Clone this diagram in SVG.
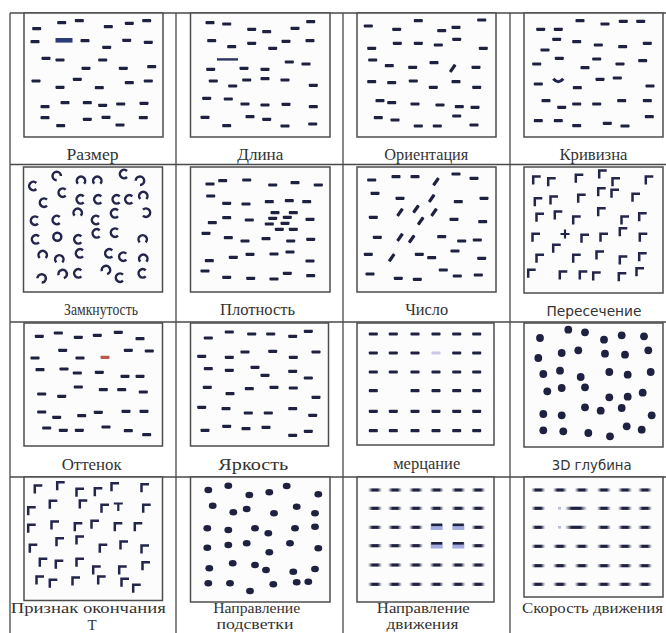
<svg xmlns="http://www.w3.org/2000/svg" width="666" height="633" viewBox="0 0 666 633">
<style>
.grid{stroke:#4a4a4a;stroke-width:1.3;fill:none}
.box{stroke:#4d4d4d;stroke-width:1.5;fill:#fcfcfd}
.dk{fill:#1f2140}
.ln{stroke:#23264a;fill:none}
.lbl{font-family:"Liberation Serif","Times New Roman",serif;font-size:17px;fill:#333;text-anchor:middle}
.lb4{font-family:"Liberation Serif","Times New Roman",serif;font-size:15px;fill:#333;text-anchor:middle}
.sans{font-family:"DejaVu Sans",Verdana,sans-serif;font-size:13.5px;fill:#333;text-anchor:middle}
</style>
<defs>
<rect id="d" x="-4.5" y="-1.6" width="9" height="3.2" rx="0.8"/>
<path id="L" d="M-3.5,4.5V-3.5H4" fill="none" stroke-width="2.5"/>
<path id="C" d="M3,-3A4.2,4.2 0 1 0 3,3" fill="none" stroke-width="2.5"/>
<linearGradient id="mb" x1="0" x2="1" y1="0" y2="0"><stop offset="0" stop-color="#1f2140" stop-opacity="0"/><stop offset="0.15" stop-color="#1f2140" stop-opacity="0.45"/><stop offset="0.3" stop-color="#1f2140"/><stop offset="0.7" stop-color="#1f2140"/><stop offset="0.85" stop-color="#1f2140" stop-opacity="0.45"/><stop offset="1" stop-color="#1f2140" stop-opacity="0"/></linearGradient>
<rect id="m" x="-7" y="-1.6" width="14" height="3.2" fill="url(#mb)"/>
<rect id="ml" x="-11" y="-1.6" width="22" height="3.2" fill="url(#mb)"/>
</defs>
<rect width="666" height="633" fill="#fff"/>
<g id="table" class="grid">
<path d="M10,13H666M10,164.5H666M10,322H666M10,477H666M10,13V633M176,13V633M343,13V633M510,13V633"/>
</g>
<g id="p1">
<rect class="box" x="24" y="13" width="139" height="124"/>
<g class="dk">
<use href="#d" x="36.7" y="28.7"/><use href="#d" x="61.7" y="22.7"/><use href="#d" x="79.3" y="20.7"/><use href="#d" x="108.3" y="26.7"/><use href="#d" x="129.3" y="23.3"/><use href="#d" x="146.7" y="20.7"/>
<use href="#d" x="35" y="41.7"/><use href="#d" x="85" y="40.7"/><use href="#d" x="106.7" y="47.3"/><use href="#d" x="126.7" y="40.3"/><use href="#d" x="148.3" y="42.3"/>
<use href="#d" x="46" y="58.3"/><use href="#d" x="60" y="60"/><use href="#d" x="102.7" y="60"/><use href="#d" x="86" y="68.3"/><use href="#d" x="123.3" y="68.3"/><use href="#d" x="151.7" y="66.7"/>
<use href="#d" x="36" y="81"/><use href="#d" x="77.3" y="79.3"/><use href="#d" x="60" y="87.3"/><use href="#d" x="99.3" y="87.7"/><use href="#d" x="129.3" y="82.7"/><use href="#d" x="148.3" y="81"/>
<use href="#d" x="45" y="106.7"/><use href="#d" x="65" y="102.7"/><use href="#d" x="87.3" y="102.7"/><use href="#d" x="102.7" y="105.3"/><use href="#d" x="120.7" y="104"/><use href="#d" x="144" y="103.3"/>
<use href="#d" x="45" y="117.7"/><use href="#d" x="60.7" y="125.7"/><use href="#d" x="87.3" y="119.3"/><use href="#d" x="106" y="117.3"/><use href="#d" x="120" y="125"/><use href="#d" x="143.3" y="117.7"/>
</g>
<rect x="55.5" y="38" width="17" height="4.6" fill="#2b3c78"/>
<text class="lbl" x="92.5" y="160" textLength="52" lengthAdjust="spacingAndGlyphs">Размер</text>
</g>
<g id="p2">
<rect class="box" x="190.5" y="13" width="139.5" height="124"/>
<g class="dk">
<use href="#d" x="210" y="22.7"/><use href="#d" x="226.7" y="24"/><use href="#d" x="251.7" y="29.3"/><use href="#d" x="266.7" y="31.7"/><use href="#d" x="295" y="28.3"/><use href="#d" x="310.7" y="21.7"/>
<use href="#d" x="211.7" y="40.7"/><use href="#d" x="231.7" y="46.7"/><use href="#d" x="251.7" y="43.3"/><use href="#d" x="272.7" y="48.3"/><use href="#d" x="286" y="41.3"/><use href="#d" x="310" y="40.7"/>
<use href="#d" x="210.7" y="69.3"/><use href="#d" x="244" y="68.3"/><use href="#d" x="265" y="69.3"/><use href="#d" x="289.3" y="62"/><use href="#d" x="306" y="64"/>
<use href="#d" x="213.3" y="81"/><use href="#d" x="232.7" y="86"/><use href="#d" x="246.7" y="80"/><use href="#d" x="265" y="78.7"/><use href="#d" x="285" y="80"/><use href="#d" x="313.3" y="85.3"/>
<use href="#d" x="206.7" y="98.3"/><use href="#d" x="228.3" y="99"/><use href="#d" x="245" y="104"/><use href="#d" x="265" y="105"/><use href="#d" x="286" y="104.3"/><use href="#d" x="313.3" y="106.7"/>
<use href="#d" x="205" y="117.3"/><use href="#d" x="226.7" y="125.7"/><use href="#d" x="250" y="116.7"/><use href="#d" x="266.7" y="119.3"/><use href="#d" x="285" y="126"/><use href="#d" x="312.7" y="124"/>
</g>
<rect x="217" y="58.2" width="21" height="2.4" fill="#2d3568"/>
<text class="lbl" x="260.3" y="160" textLength="46" lengthAdjust="spacingAndGlyphs">Длина</text>
</g>
<g id="p3">
<rect class="box" x="357" y="13" width="139" height="124"/>
<g class="dk">
<use href="#d" x="368.3" y="26"/><use href="#d" x="396.7" y="29.3"/><use href="#d" x="418.3" y="20.7"/><use href="#d" x="441.7" y="30.7"/><use href="#d" x="456" y="27.3"/><use href="#d" x="481.7" y="20"/>
<use href="#d" x="371.7" y="48.3"/><use href="#d" x="397.3" y="43.3"/><use href="#d" x="418.3" y="43.3"/><use href="#d" x="438.3" y="45"/><use href="#d" x="456.7" y="39.3"/><use href="#d" x="483.3" y="48.3"/>
<use href="#d" x="372.7" y="60"/><use href="#d" x="389.3" y="65.7"/><use href="#d" x="412.7" y="67.3"/><use href="#d" x="434" y="62.7"/><use href="#d" x="476" y="67.3"/>
<use href="#d" transform="translate(452.7,68.3) rotate(-55)"/>
<use href="#d" x="371.7" y="81.7"/><use href="#d" x="391.7" y="82.7"/><use href="#d" x="413.3" y="81"/><use href="#d" x="433.3" y="87.3"/><use href="#d" x="456" y="81.7"/><use href="#d" x="476.7" y="87.3"/>
<use href="#d" x="380" y="100.7"/><use href="#d" x="391.7" y="102.7"/><use href="#d" x="415" y="104"/><use href="#d" x="440" y="105"/><use href="#d" x="459.3" y="106.7"/><use href="#d" x="475" y="107.3"/>
<use href="#d" x="378.3" y="117.7"/><use href="#d" x="395" y="120"/><use href="#d" x="418.3" y="126"/><use href="#d" x="437.3" y="126"/><use href="#d" x="456.7" y="116"/><use href="#d" x="474" y="125"/>
</g>
<text class="lbl" x="426.3" y="160" textLength="84" lengthAdjust="spacingAndGlyphs">Ориентация</text>
</g>
<g id="p4">
<rect class="box" x="524" y="13" width="139" height="124"/>
<g class="dk">
<use href="#d" x="540.7" y="29.3"/><use href="#d" x="558.3" y="29.3"/><use href="#d" x="580" y="20.7"/><use href="#d" x="605" y="24"/><use href="#d" x="623.3" y="21.3"/><use href="#d" x="640.7" y="21.3"/>
<use href="#d" x="545" y="50"/><use href="#d" x="556.7" y="39.3"/><use href="#d" x="576.7" y="41.7"/><use href="#d" x="598.3" y="45"/><use href="#d" x="622.7" y="46.7"/><use href="#d" x="647.3" y="43.3"/>
<use href="#d" x="536.7" y="64"/><use href="#d" x="559.3" y="58.3"/><use href="#d" x="585" y="67.7"/><use href="#d" x="596.7" y="59"/><use href="#d" x="620" y="64"/><use href="#d" x="642.7" y="60.7"/>
<use href="#d" x="538.3" y="84"/><use href="#d" x="577.3" y="87.7"/><use href="#d" x="600" y="79.3"/><use href="#d" x="617.3" y="78"/><use href="#d" x="650" y="86"/>
<use href="#d" x="546" y="100.7"/><use href="#d" x="561.7" y="107.3"/><use href="#d" x="576.7" y="104"/><use href="#d" x="596.7" y="104"/><use href="#d" x="621.7" y="100.7"/><use href="#d" x="647.3" y="100.7"/>
<use href="#d" x="538.3" y="120.7"/><use href="#d" x="558.3" y="120.7"/><use href="#d" x="576.7" y="125.7"/><use href="#d" x="607.3" y="123.3"/><use href="#d" x="625" y="126"/><use href="#d" x="649.3" y="116.7"/>
</g>
<path class="ln" d="M553.3,78.8Q558.3,84.8 563.3,78.8" stroke-width="3"/>
<text class="lbl" x="593.5" y="160" textLength="68" lengthAdjust="spacingAndGlyphs">Кривизна</text>
</g>
<g id="p5">
<rect class="box" x="23.5" y="167" width="139" height="125"/>
<g class="ln">
<use href="#C" transform="translate(33.3,186)"/><use href="#C" transform="translate(56.7,176) rotate(45)"/><use href="#C" transform="translate(81,180.7) rotate(90)"/><use href="#C" transform="translate(97.3,180.7) rotate(90)"/><use href="#C" transform="translate(124,174)"/><use href="#C" transform="translate(140,180.7) rotate(135)"/>
<use href="#C" transform="translate(44,202.7)"/><use href="#C" transform="translate(62.7,192.7)"/><use href="#C" transform="translate(80.7,199.3)"/><use href="#C" transform="translate(98.3,199.3)"/><use href="#C" transform="translate(116.7,199.3)"/><use href="#C" transform="translate(129.3,199.3)"/><use href="#C" transform="translate(143.3,196) rotate(90)"/>
<use href="#C" transform="translate(35,220.7)"/><use href="#C" transform="translate(56.7,220)"/><use href="#C" transform="translate(77.7,212.7) rotate(90)"/><use href="#C" transform="translate(96,220)"/><use href="#C" transform="translate(115,213.3)"/><use href="#C" transform="translate(146,212.7) rotate(180)"/>
<use href="#C" transform="translate(36,239.3)"/><circle cx="57.3" cy="236.7" r="4" stroke-width="2.5"/><use href="#C" transform="translate(78.3,239.3)"/><use href="#C" transform="translate(96.7,233.3)"/><use href="#C" transform="translate(115,232.7)"/><use href="#C" transform="translate(142.7,239.3) rotate(90)"/>
<use href="#C" transform="translate(42.7,255) rotate(90)"/><use href="#C" transform="translate(59.3,259.3) rotate(90)"/><use href="#C" transform="translate(80,253.3)"/><use href="#C" transform="translate(109.3,253.3)"/><use href="#C" transform="translate(123.3,256.7)"/><use href="#C" transform="translate(143.3,258.7) rotate(90)"/>
<use href="#C" transform="translate(41.7,278.3) rotate(135)"/><use href="#C" transform="translate(62.7,274) rotate(120)"/><use href="#C" transform="translate(78.3,273.3)"/><use href="#C" transform="translate(106,270) rotate(120)"/><use href="#C" transform="translate(120,277.7)"/><use href="#C" transform="translate(142.7,273.3)"/>
</g>
<text class="lbl" x="101" y="315" textLength="74" lengthAdjust="spacingAndGlyphs">Замкнутость</text>
</g>
<g id="p6">
<rect class="box" x="190.5" y="167" width="139.5" height="125"/>
<g class="dk">
<use href="#d" x="210" y="184"/><use href="#d" x="222.7" y="180.7"/><use href="#d" x="246.7" y="180"/><use href="#d" x="272.7" y="185"/><use href="#d" x="295" y="182.7"/><use href="#d" x="318.3" y="185"/>
<use href="#d" x="210.7" y="196"/><use href="#d" x="226.7" y="203.3"/><use href="#d" x="246" y="204"/><use href="#d" x="269.3" y="201.7"/><use href="#d" x="289.3" y="200.7"/><use href="#d" x="306.7" y="201.7"/>
<use href="#d" x="212.3" y="222.7"/><use href="#d" x="226.7" y="217.7"/><use href="#d" x="249.3" y="220"/><use href="#d" x="275" y="212.7"/><use href="#d" x="293.3" y="212.7"/><use href="#d" x="272.7" y="218.3"/><use href="#d" x="287.3" y="217.3"/><use href="#d" x="269.3" y="224"/><use href="#d" x="285" y="223.3"/><use href="#d" x="279.3" y="229.3"/><use href="#d" x="293.3" y="229.3"/><use href="#d" x="310" y="219.3"/>
<use href="#d" x="206" y="233.3"/><use href="#d" x="228.3" y="237.7"/><use href="#d" x="245" y="241"/><use href="#d" x="266" y="238.7"/><use href="#d" x="290.7" y="241"/><use href="#d" x="310.7" y="239.3"/>
<use href="#d" x="209.3" y="260.7"/><use href="#d" x="233.3" y="257.3"/><use href="#d" x="250" y="254.3"/><use href="#d" x="274" y="254"/><use href="#d" x="290" y="252"/><use href="#d" x="310" y="261"/>
<use href="#d" x="205" y="271"/><use href="#d" x="226.7" y="277.3"/><use href="#d" x="250.7" y="278.3"/><use href="#d" x="274" y="279"/><use href="#d" x="287.3" y="273.3"/><use href="#d" x="310.7" y="275.7"/>
</g>
<text class="lbl" x="257.5" y="315" textLength="75" lengthAdjust="spacingAndGlyphs">Плотность</text>
</g>
<g id="p7">
<rect class="box" x="357" y="167" width="139" height="125"/>
<g class="dk">
<use href="#d" x="371.7" y="180"/><use href="#d" x="396" y="176.7"/><use href="#d" x="415" y="176.7"/><use href="#d" x="456" y="174"/><use href="#d" x="474" y="178.3"/>
<use href="#d" x="375" y="193.3"/><use href="#d" x="400" y="198.3"/><use href="#d" x="458.3" y="201.7"/><use href="#d" x="484" y="198.3"/>
<use href="#d" x="373.3" y="217.3"/><use href="#d" x="454" y="219.3"/><use href="#d" x="482.7" y="221.7"/>
<use href="#d" x="377.3" y="237.3"/><use href="#d" x="441.7" y="236.7"/><use href="#d" x="461.7" y="241"/><use href="#d" x="477.3" y="240"/>
<use href="#d" x="368.3" y="254.3"/><use href="#d" x="419.3" y="254.3"/><use href="#d" x="431.7" y="257.7"/><use href="#d" x="455" y="251"/><use href="#d" x="481.7" y="258.3"/>
<use href="#d" x="370" y="274"/><use href="#d" x="398.3" y="278.3"/><use href="#d" x="417.3" y="279.3"/><use href="#d" x="443.3" y="270"/><use href="#d" x="457.3" y="276"/><use href="#d" x="478.3" y="275"/>
<use href="#d" transform="translate(436,181.7) rotate(-55)"/><use href="#d" transform="translate(431.7,198.3) rotate(-55)"/><use href="#d" transform="translate(400,212.3) rotate(-55)"/><use href="#d" transform="translate(416,209) rotate(-55)"/><use href="#d" transform="translate(434,212.3) rotate(-55)"/><use href="#d" transform="translate(420.7,221) rotate(-55)"/><use href="#d" transform="translate(400,237.3) rotate(-55)"/><use href="#d" transform="translate(411.7,239) rotate(-55)"/><use href="#d" transform="translate(391.7,257.7) rotate(-55)"/>
</g>
<text class="lbl" x="426.7" y="315" textLength="43" lengthAdjust="spacingAndGlyphs">Число</text>
</g>
<g id="p8">
<rect class="box" x="524" y="167" width="139" height="126"/>
<g class="ln">
<use href="#L" x="536.7" y="180"/><use href="#L" x="551.7" y="181.7"/><use href="#L" x="579.3" y="178.3"/><use href="#L" x="602.7" y="174"/><use href="#L" x="616" y="181.7"/><use href="#L" x="649.3" y="180"/>
<use href="#L" x="538.3" y="201.7"/><use href="#L" x="554" y="200"/><use href="#L" x="581.7" y="198.3"/><use href="#L" x="601.7" y="191.7"/><use href="#L" x="615" y="193.3"/><use href="#L" x="636" y="197.3"/>
<use href="#L" x="540" y="217.3"/><use href="#L" x="558.3" y="215"/><use href="#L" x="576.7" y="220"/><use href="#L" x="601.7" y="211.7"/><use href="#L" x="625" y="220"/><use href="#L" x="642.7" y="216.7"/>
<use href="#L" x="536" y="237.3"/><use href="#L" x="585" y="238.3"/><use href="#L" x="604" y="237.3"/><use href="#L" x="623.3" y="231.7"/><use href="#L" x="643.3" y="237.3"/>
<use href="#L" x="540" y="258.3"/><use href="#L" x="556.7" y="248.3"/><use href="#L" x="576.7" y="258.3"/><use href="#L" x="600" y="255"/><use href="#L" x="623.3" y="260"/><use href="#L" x="642.7" y="256.7"/>
<use href="#L" x="531.7" y="273.3"/><use href="#L" x="563.3" y="275"/><use href="#L" x="583.3" y="275"/><use href="#L" x="596.7" y="276"/><use href="#L" x="622.3" y="276.7"/><use href="#L" x="640" y="271.7"/>
<path d="M560.5,234H569.5M565,229.5V238.5" stroke-width="2.2"/>
</g>
<text class="sans" x="594" y="316" textLength="95" lengthAdjust="spacingAndGlyphs">Пересечение</text>
</g>
<g id="p9">
<rect class="box" x="24" y="323" width="138.5" height="123"/>
<g class="dk">
<use href="#d" x="39.3" y="336.3"/><use href="#d" x="58.3" y="333"/><use href="#d" x="78.3" y="337.3"/><use href="#d" x="97.3" y="335.3"/><use href="#d" x="118.3" y="332.3"/><use href="#d" x="140" y="338.7"/>
<use href="#d" x="35" y="358"/><use href="#d" x="62.7" y="350.3"/><use href="#d" x="80" y="358"/><use href="#d" x="128.3" y="350.3"/><use href="#d" x="149.3" y="351"/>
<use href="#d" x="40" y="369.7"/><use href="#d" x="64" y="369"/><use href="#d" x="77.3" y="373"/><use href="#d" x="99.3" y="372.3"/><use href="#d" x="125" y="376.3"/><use href="#d" x="140" y="376.3"/>
<use href="#d" x="41.7" y="394"/><use href="#d" x="61.7" y="396.3"/><use href="#d" x="78.3" y="387"/><use href="#d" x="103.3" y="389.7"/><use href="#d" x="121.7" y="389.7"/><use href="#d" x="143.3" y="392"/>
<use href="#d" x="41.7" y="412"/><use href="#d" x="56.7" y="417.3"/><use href="#d" x="81.7" y="415.7"/><use href="#d" x="98.3" y="412.3"/><use href="#d" x="126" y="411.3"/><use href="#d" x="144" y="411.3"/>
<use href="#d" x="46.7" y="428"/><use href="#d" x="63.3" y="430.3"/><use href="#d" x="79.3" y="430.3"/><use href="#d" x="106" y="427"/><use href="#d" x="128.3" y="430.7"/><use href="#d" x="146.7" y="434.7"/>
</g>
<use href="#d" x="105" y="357.3" fill="#c0574c"/>
<text class="lbl" x="91.7" y="469.5" textLength="60" lengthAdjust="spacingAndGlyphs">Оттенок</text>
</g>
<g id="p10">
<rect class="box" x="190.5" y="323" width="138" height="123"/>
<g class="dk">
<use href="#d" x="208.3" y="338"/><use href="#d" x="229.3" y="332"/><use href="#d" x="251.7" y="334"/><use href="#d" x="270.7" y="334"/><use href="#d" x="292.7" y="336.3"/><use href="#d" x="308.3" y="331.3"/>
<use href="#d" x="201.7" y="356.3"/><use href="#d" x="229.3" y="357.3"/><use href="#d" x="245" y="352"/><use href="#d" x="272.7" y="351.3"/><use href="#d" x="293.3" y="357.3"/><use href="#d" x="316" y="352"/>
<use href="#d" x="208.3" y="368.7"/><use href="#d" x="229.3" y="370.3"/><use href="#d" x="255" y="367.3"/><use href="#d" x="265" y="375.3"/><use href="#d" x="292.7" y="371.3"/><use href="#d" x="308.3" y="378"/>
<use href="#d" x="207.3" y="387.3"/><use href="#d" x="230" y="393.7"/><use href="#d" x="249.3" y="388.7"/><use href="#d" x="274" y="387.3"/><use href="#d" x="293.3" y="388"/><use href="#d" x="316" y="397.3"/>
<use href="#d" x="201.7" y="407.3"/><use href="#d" x="226" y="408.7"/><use href="#d" x="248.3" y="413"/><use href="#d" x="268.3" y="413"/><use href="#d" x="292.7" y="408.7"/><use href="#d" x="312.7" y="415.3"/>
<use href="#d" x="205" y="430.3"/><use href="#d" x="226.7" y="426.3"/><use href="#d" x="246" y="428.7"/><use href="#d" x="266" y="427.3"/><use href="#d" x="292.7" y="435.3"/><use href="#d" x="308.3" y="431.3"/>
</g>
<text class="lbl" x="253.3" y="469.5" textLength="70" lengthAdjust="spacingAndGlyphs">Яркость</text>
</g>
<g id="p11">
<rect class="box" x="357" y="323" width="137" height="122"/>
<g class="dk">
<use href="#d" x="373.3" y="334"/><use href="#d" x="393.3" y="334"/><use href="#d" x="415" y="334"/><use href="#d" x="436" y="334"/><use href="#d" x="456.7" y="334"/><use href="#d" x="476.7" y="334"/>
<use href="#d" x="373.3" y="353"/><use href="#d" x="393.3" y="353"/><use href="#d" x="415" y="353"/><use href="#d" x="456.7" y="353"/><use href="#d" x="476.7" y="353"/>
<use href="#d" x="373.3" y="372"/><use href="#d" x="393.3" y="372"/><use href="#d" x="415" y="372"/><use href="#d" x="436" y="372"/><use href="#d" x="456.7" y="372"/><use href="#d" x="476.7" y="372"/>
<use href="#d" x="373.3" y="390.7"/><use href="#d" x="415" y="390.7"/><use href="#d" x="436" y="390.7"/><use href="#d" x="456.7" y="390.7"/><use href="#d" x="476.7" y="390.7"/>
<use href="#d" x="373.3" y="411.3"/><use href="#d" x="393.3" y="411.3"/><use href="#d" x="415" y="411.3"/><use href="#d" x="436" y="411.3"/><use href="#d" x="456.7" y="411.3"/><use href="#d" x="476.7" y="411.3"/>
<use href="#d" x="373.3" y="430.7"/><use href="#d" x="393.3" y="430.7"/><use href="#d" x="415" y="430.7"/><use href="#d" x="436" y="430.7"/><use href="#d" x="456.7" y="430.7"/><use href="#d" x="476.7" y="430.7"/>
</g>
<use href="#d" x="436" y="353" fill="#cbc8e4"/>
<text class="lbl" x="426.7" y="469" textLength="67" lengthAdjust="spacingAndGlyphs">мерцание</text>
</g>
<g id="p12">
<rect class="box" x="524" y="323" width="139" height="124"/>
<g class="dk">
<circle cx="540" cy="338" r="3.9"/><circle cx="568.3" cy="329.7" r="3.9"/><circle cx="585" cy="332.3" r="3.9"/><circle cx="604" cy="339.7" r="3.9"/><circle cx="621.7" cy="335.3" r="3.9"/><circle cx="644" cy="336.3" r="3.9"/>
<circle cx="538.3" cy="358" r="3.9"/><circle cx="561.7" cy="353" r="3.9"/><circle cx="578.3" cy="350.3" r="3.9"/><circle cx="605" cy="353.7" r="3.9"/><circle cx="625" cy="354.7" r="3.9"/><circle cx="648.3" cy="350.3" r="3.9"/>
<circle cx="543.3" cy="374" r="3.9"/><circle cx="560" cy="370.7" r="3.9"/><circle cx="580.7" cy="377" r="3.9"/><circle cx="609.3" cy="372" r="3.9"/><circle cx="627.7" cy="374.7" r="3.9"/><circle cx="650.7" cy="372" r="3.9"/>
<circle cx="547.3" cy="391.3" r="3.9"/><circle cx="561.7" cy="388" r="3.9"/><circle cx="585" cy="387.3" r="3.9"/><circle cx="609.3" cy="397.3" r="3.9"/><circle cx="627.7" cy="396.7" r="3.9"/><circle cx="642.7" cy="392.7" r="3.9"/>
<circle cx="543.3" cy="414" r="3.9"/><circle cx="561.7" cy="415.3" r="3.9"/><circle cx="585" cy="407.3" r="3.9"/><circle cx="600.7" cy="410.7" r="3.9"/><circle cx="621.7" cy="408" r="3.9"/><circle cx="651.7" cy="415.3" r="3.9"/>
<circle cx="543.3" cy="430.3" r="3.9"/><circle cx="563.3" cy="431.3" r="3.9"/><circle cx="588.3" cy="433" r="3.9"/><circle cx="610" cy="436.3" r="3.9"/><circle cx="626.7" cy="426.3" r="3.9"/><circle cx="641.7" cy="429.7" r="3.9"/>
</g>
<text class="sans" x="591.7" y="470" textLength="80" lengthAdjust="spacingAndGlyphs">3D глубина</text>
</g>
<g id="p13">
<rect class="box" x="24" y="477" width="138.5" height="123.5"/>
<g class="ln">
<use href="#L" x="38.3" y="489"/><use href="#L" x="60.7" y="485.7"/><use href="#L" x="80" y="492.3"/><use href="#L" x="98.3" y="491.7"/><use href="#L" x="115" y="486.7"/><use href="#L" x="145" y="487.7"/>
<use href="#L" x="31.7" y="510.7"/><use href="#L" x="53.3" y="504.3"/><use href="#L" x="83.3" y="504"/><use href="#L" x="105" y="508.3"/><use href="#L" x="146.7" y="508.3"/>
<use href="#L" x="31.7" y="528.3"/><use href="#L" x="55" y="525"/><use href="#L" x="78.3" y="526.7"/><use href="#L" x="95" y="524.3"/><use href="#L" x="118.3" y="526.7"/><use href="#L" x="138.3" y="526.7"/>
<use href="#L" x="33.3" y="548.3"/><use href="#L" x="60" y="541.7"/><use href="#L" x="80" y="540"/><use href="#L" x="103.3" y="548.3"/><use href="#L" x="124" y="545"/><use href="#L" x="145" y="549"/>
<use href="#L" x="43.3" y="562.3"/><use href="#L" x="59.3" y="564.3"/><use href="#L" x="80" y="562.3"/><use href="#L" x="96.7" y="570"/><use href="#L" x="122.7" y="570"/><use href="#L" x="146" y="565.7"/>
<use href="#L" x="40" y="580"/><use href="#L" x="53.3" y="583.3"/><use href="#L" x="76" y="581"/><use href="#L" x="101.7" y="580"/><use href="#L" x="125" y="582.3"/><use href="#L" x="136.7" y="588.3"/>
<path d="M113.8,503.5H122.8M118.3,503.5V511" stroke-width="2.2"/>
</g>
<text class="lb4" x="88.3" y="613" textLength="155" lengthAdjust="spacingAndGlyphs">Признак окончания</text>
<text class="lb4" x="92" y="629.5">Т</text>
</g>
<g id="p14">
<rect class="box" x="190.5" y="477" width="139.5" height="125"/>
<g class="dk">
<ellipse cx="208.3" cy="490" rx="3.9" ry="3.2"/><ellipse cx="228.3" cy="485.7" rx="3.9" ry="3.2"/><ellipse cx="249.3" cy="495" rx="3.9" ry="3.2"/><ellipse cx="269.3" cy="492.3" rx="3.9" ry="3.2"/><ellipse cx="286.7" cy="486" rx="3.9" ry="3.2"/><ellipse cx="318.3" cy="494.3" rx="3.9" ry="3.2"/>
<ellipse cx="212.7" cy="505.7" rx="3.9" ry="3.2"/><ellipse cx="233.3" cy="512.3" rx="3.9" ry="3.2"/><ellipse cx="246.7" cy="509" rx="3.9" ry="3.2"/><ellipse cx="274" cy="513.3" rx="3.9" ry="3.2"/><ellipse cx="296.7" cy="506.7" rx="3.9" ry="3.2"/><ellipse cx="315" cy="513.3" rx="3.9" ry="3.2"/>
<ellipse cx="207.3" cy="528.3" rx="3.9" ry="3.2"/><ellipse cx="228.3" cy="530" rx="3.9" ry="3.2"/><ellipse cx="255" cy="528.3" rx="3.9" ry="3.2"/><ellipse cx="268.3" cy="533.3" rx="3.9" ry="3.2"/><ellipse cx="295" cy="528.3" rx="3.9" ry="3.2"/><ellipse cx="315" cy="526.7" rx="3.9" ry="3.2"/>
<ellipse cx="207.3" cy="547.7" rx="3.9" ry="3.2"/><ellipse cx="228.3" cy="545" rx="3.9" ry="3.2"/><ellipse cx="246.7" cy="543.3" rx="3.9" ry="3.2"/><ellipse cx="269.3" cy="552.3" rx="3.9" ry="3.2"/><ellipse cx="290" cy="543.3" rx="3.9" ry="3.2"/><ellipse cx="318.3" cy="548.3" rx="3.9" ry="3.2"/>
<ellipse cx="209.3" cy="568.3" rx="3.9" ry="3.2"/><ellipse cx="232.7" cy="563.3" rx="3.9" ry="3.2"/><ellipse cx="255" cy="565" rx="3.9" ry="3.2"/><ellipse cx="266" cy="570" rx="3.9" ry="3.2"/><ellipse cx="293.3" cy="571.7" rx="3.9" ry="3.2"/><ellipse cx="315" cy="569" rx="3.9" ry="3.2"/>
<ellipse cx="208.3" cy="583.3" rx="3.9" ry="3.2"/><ellipse cx="230" cy="583.3" rx="3.9" ry="3.2"/><ellipse cx="250" cy="591" rx="3.9" ry="3.2"/><ellipse cx="273.3" cy="584.3" rx="3.9" ry="3.2"/><ellipse cx="296.7" cy="582.3" rx="3.9" ry="3.2"/><ellipse cx="308.3" cy="581.7" rx="3.9" ry="3.2"/>
</g>
<text class="lb4" x="256.7" y="613" textLength="87" lengthAdjust="spacingAndGlyphs">Направление</text>
<text class="lb4" x="255" y="628.5" textLength="77" lengthAdjust="spacingAndGlyphs">подсветки</text>
</g>
<g id="p15">
<rect class="box" x="357" y="477" width="137" height="125"/>
<g>
<use href="#m" x="375" y="490"/><use href="#m" x="395" y="490"/><use href="#m" x="416" y="490"/><use href="#m" x="436.7" y="490"/><use href="#m" x="458.3" y="490"/><use href="#m" x="478.3" y="490"/>
<use href="#m" x="375" y="508.3"/><use href="#m" x="395" y="508.3"/><use href="#m" x="416" y="508.3"/><use href="#m" x="436.7" y="508.3"/><use href="#m" x="458.3" y="508.3"/><use href="#m" x="478.3" y="508.3"/>
<use href="#m" x="375" y="527.3"/><use href="#m" x="395" y="527.3"/><use href="#m" x="416" y="527.3"/><use href="#m" x="478.3" y="527.3"/>
<use href="#m" x="375" y="545.7"/><use href="#m" x="395" y="545.7"/><use href="#m" x="416" y="545.7"/><use href="#m" x="478.3" y="545.7"/>
<use href="#m" x="375" y="565"/><use href="#m" x="395" y="565"/><use href="#m" x="416" y="565"/><use href="#m" x="436.7" y="565"/><use href="#m" x="458.3" y="565"/><use href="#m" x="478.3" y="565"/>
<use href="#m" x="375" y="584.3"/><use href="#m" x="395" y="584.3"/><use href="#m" x="416" y="584.3"/><use href="#m" x="436.7" y="584.3"/><use href="#m" x="458.3" y="584.3"/><use href="#m" x="478.3" y="584.3"/>
</g>
<g fill="#7e8ad4" opacity="0.7">
<rect x="430.7" y="524" width="12" height="6"/><rect x="452.3" y="524" width="12" height="6"/><rect x="430.7" y="542.5" width="12" height="6"/><rect x="452.3" y="542.5" width="12" height="6"/>
</g>
<g class="dk">
<rect x="431.2" y="523.5" width="11" height="2.6"/><rect x="452.8" y="523.5" width="11" height="2.6"/><rect x="431.2" y="542" width="11" height="2.6"/><rect x="452.8" y="542" width="11" height="2.6"/>
</g>
<text class="lb4" x="423.3" y="613" textLength="93" lengthAdjust="spacingAndGlyphs">Направление</text>
<text class="lb4" x="422.5" y="628.5" textLength="72" lengthAdjust="spacingAndGlyphs">движения</text>
</g>
<g id="p16">
<rect class="box" x="524" y="477" width="139" height="120"/>
<g>
<use href="#m" x="538.3" y="490"/><use href="#m" x="560" y="490"/><use href="#m" x="581.7" y="490"/><use href="#m" x="604" y="490"/><use href="#m" x="625" y="490"/><use href="#m" x="645" y="490"/>
<use href="#m" x="538.3" y="508.3"/><use href="#ml" x="576" y="508.3"/><use href="#m" x="604" y="508.3"/><use href="#m" x="625" y="508.3"/><use href="#m" x="645" y="508.3"/>
<use href="#m" x="538.3" y="527.3"/><use href="#ml" x="576" y="527.3"/><use href="#m" x="604" y="527.3"/><use href="#m" x="625" y="527.3"/><use href="#m" x="645" y="527.3"/>
<use href="#m" x="538.3" y="546.3"/><use href="#m" x="560" y="546.3"/><use href="#m" x="581.7" y="546.3"/><use href="#m" x="604" y="546.3"/><use href="#m" x="625" y="546.3"/><use href="#m" x="645" y="546.3"/>
<use href="#m" x="538.3" y="565.7"/><use href="#m" x="560" y="565.7"/><use href="#m" x="581.7" y="565.7"/><use href="#m" x="604" y="565.7"/><use href="#m" x="625" y="565.7"/><use href="#m" x="645" y="565.7"/>
<use href="#m" x="538.3" y="584.3"/><use href="#m" x="560" y="584.3"/><use href="#m" x="581.7" y="584.3"/><use href="#m" x="604" y="584.3"/><use href="#m" x="625" y="584.3"/><use href="#m" x="645" y="584.3"/>
</g>
<g fill="#b9bde0"><rect x="558" y="507" width="3" height="2.6"/><rect x="558" y="526" width="3" height="2.6"/></g>
<text class="lb4" x="592.5" y="613" textLength="141" lengthAdjust="spacingAndGlyphs">Скорость движения</text>
</g>
</svg>
